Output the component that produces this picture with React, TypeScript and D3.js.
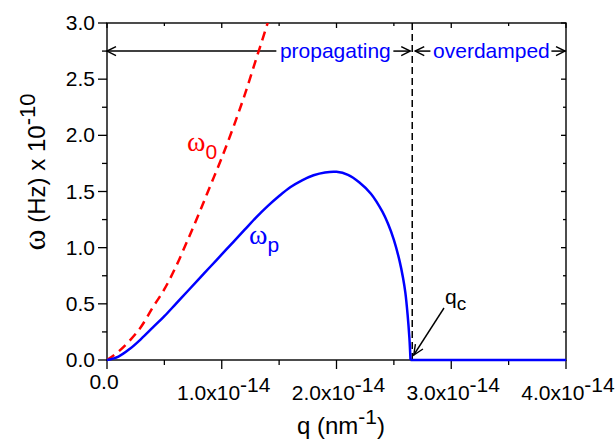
import React from "react";
import * as d3 from "d3";

// ω0 (red dashed) — q in units of 1e-14 nm^-1, ω in units of 1e10 Hz
const redQ = [0, 0.1, 0.2, 0.3, 0.4, 0.5, 0.6, 0.7, 0.8, 0.9, 1.0, 1.1, 1.2, 1.3, 1.4, 1.45];
const redW = [0, 0.075, 0.175, 0.3, 0.47, 0.63, 0.83, 1.06, 1.3, 1.55, 1.8, 2.07, 2.36, 2.68, 3.0, 3.17];

// ωp (blue solid): propagating branch, then overdamped (zero) branch
const blueQ = [0, 0.1, 0.2, 0.3, 0.4, 0.5, 0.6, 0.7, 0.8, 0.9, 1.0, 1.1, 1.2, 1.3, 1.4, 1.5, 1.6, 1.7, 1.8, 1.9, 2.0, 2.1, 2.2, 2.3, 2.4, 2.45, 2.5, 2.55, 2.58, 2.6, 2.62, 2.635, 2.645];
const blueW = [0, 0.03, 0.1, 0.19, 0.29, 0.39, 0.5, 0.61, 0.72, 0.83, 0.94, 1.05, 1.16, 1.27, 1.37, 1.46, 1.54, 1.6, 1.645, 1.67, 1.675, 1.648, 1.58, 1.48, 1.32, 1.21, 1.07, 0.88, 0.73, 0.6, 0.4, 0.2, 0];
const flatQ = [2.645, 3.0, 3.5, 4.0];
const flatW = [0, 0, 0, 0];

const yTickValues = [0, 0.5, 1, 1.5, 2, 2.5, 3];
const yTickLabels = ["0.0", "0.5", "1.0", "1.5", "2.0", "2.5", "3.0"];
const xTickValues = [0, 1, 2, 3, 4];
const xTickMantissa = ["0.0", "1.0x10", "2.0x10", "3.0x10", "4.0x10"];
const xTickExponent = ["", "-14", "-14", "-14", "-14"];

const qCritical = 2.66;
const regionRowOmega = 2.75;
const regionLabels = ["propagating", "overdamped"];
const regionLabelQ = [1.99, 3.35];

const SANS = "'Liberation Sans', Arial, sans-serif";
const SERIF = "'Liberation Serif', 'Times New Roman', serif";
const BLUE = "#0000ff";
const RED = "#ff0000";

const L = 107, R = 566, T = 23, B = 360;

function arrowHead(x: number, y: number, dir: number, len = 9, hw = 4.5) {
  return `M${x - dir * len},${y - hw}L${x},${y}L${x - dir * len},${y + hw}`;
}

export default function App() {
  const x = d3.scaleLinear().domain([0, 4]).range([L, R]);
  const y = d3.scaleLinear().domain([0, 3]).range([B, T]);

  const mk = (curve: d3.CurveFactory) =>
    d3
      .line<[number, number]>()
      .x((d) => x(d[0]))
      .y((d) => y(d[1]))
      .curve(curve);

  const redPath = mk(d3.curveMonotoneX)(redQ.map((q, i) => [q, redW[i]] as [number, number])) || "";
  const bluePath = mk(d3.curveCatmullRom.alpha(0.5))(blueQ.map((q, i) => [q, blueW[i]] as [number, number])) || "";
  const flatPath = mk(d3.curveLinear)(flatQ.map((q, i) => [q, flatW[i]] as [number, number])) || "";

  const yMinor = d3.range(0, 3.001, 0.25);
  const xMinor = d3.range(0, 4.001, 0.5);
  const isMajorY = (v: number) => Math.abs(v * 2 - Math.round(v * 2)) < 1e-6;
  const isMajorX = (v: number) => Math.abs(v - Math.round(v)) < 1e-6;

  const rowY = y(regionRowOmega);
  const xc = x(qCritical);
  const labelFont = 21;
  const pW = 112, oW = 118;
  const pC = x(regionLabelQ[0]);
  const oC = x(regionLabelQ[1]);

  return (
    <svg
      width={615}
      height={444}
      style={{ position: "absolute", left: 0, top: 0, background: "#fff" }}
      fontFamily={SANS}
    >
      <defs>
        <clipPath id="plotClip">
          <rect x={L} y={T} width={R - L} height={B - T + 4} />
        </clipPath>
      </defs>
      <rect x={0} y={0} width={615} height={444} fill="#fff" />

      {/* ticks */}
      <g stroke="#000" strokeWidth={1.3}>
        {yMinor.map((v, i) => {
          const maj = isMajorY(v);
          return (
            <g key={"y" + i}>
              <line x1={L} x2={L - (maj ? 9 : 5)} y1={y(v)} y2={y(v)} />
              <line x1={R} x2={R - (maj ? 5 : 3)} y1={y(v)} y2={y(v)} />
            </g>
          );
        })}
        {xMinor.map((v, i) => {
          const maj = isMajorX(v);
          return (
            <g key={"x" + i}>
              <line x1={x(v)} x2={x(v)} y1={B} y2={B + (maj ? 9 : 5)} />
              <line x1={x(v)} x2={x(v)} y1={T} y2={T + (maj ? 5 : 3)} />
            </g>
          );
        })}
      </g>

      {/* frame */}
      <rect x={L} y={T} width={R - L} height={B - T} fill="none" stroke="#000" strokeWidth={1.4} />

      {/* y tick labels */}
      {yTickValues.map((v, i) => (
        <text key={"yl" + i} x={L - 12} y={y(v) + 7} textAnchor="end" fontSize={21} fill="#000">
          {yTickLabels[i]}
        </text>
      ))}

      {/* x tick labels */}
      {xTickValues.map((v, i) =>
        xTickExponent[i] ? (
          <text key={"xl" + i} x={x(v) + 2} y={400} textAnchor="middle" fontSize={21} fill="#000">
            {xTickMantissa[i]}
            <tspan dy={-8}>{xTickExponent[i]}</tspan>
          </text>
        ) : (
          <text key={"xl" + i} x={x(v) - 3} y={389} textAnchor="middle" fontSize={21} fill="#000">
            {xTickMantissa[i]}
          </text>
        )
      )}

      {/* axis titles */}
      <text x={341} y={434} textAnchor="middle" fontSize={24} fill="#000">
        q (nm<tspan dy={-10} fontSize={21}>-1</tspan>
        <tspan dy={10}>)</tspan>
      </text>
      <text transform={`translate(45,172) rotate(-90)`} textAnchor="middle" fontSize={24} fill="#000">
        <tspan fontFamily={SERIF} fontSize={32}>ω</tspan>
        <tspan> (Hz) x 10</tspan>
        <tspan dy={-10} fontSize={22}>-10</tspan>
      </text>

      {/* critical q dashed line */}
      <line x1={xc} x2={xc} y1={T} y2={B} stroke="#000" strokeWidth={1.5} strokeDasharray="7,4" />

      {/* region arrows */}
      <g stroke="#000" strokeWidth={1.5} fill="none">
        <line x1={L} x2={pC - pW / 2 - 3} y1={rowY} y2={rowY} />
        <path d={arrowHead(L, rowY, -1)} />
        <line x1={pC + pW / 2 + 2} x2={xc - 2} y1={rowY} y2={rowY} />
        <path d={arrowHead(xc - 2, rowY, 1)} />
        <line x1={xc + 3} x2={oC - oW / 2 - 2} y1={rowY} y2={rowY} />
        <path d={arrowHead(xc + 3, rowY, -1)} />
        <line x1={oC + oW / 2 + 1} x2={R - 1} y1={rowY} y2={rowY} />
        <path d={arrowHead(R - 1, rowY, 1)} />
      </g>
      <text x={pC} y={rowY + 7} textAnchor="middle" fontSize={labelFont} fill={BLUE}>
        {regionLabels[0]}
      </text>
      <text x={oC} y={rowY + 7} textAnchor="middle" fontSize={labelFont} fill={BLUE}>
        {regionLabels[1]}
      </text>

      {/* curves */}
      <g clipPath="url(#plotClip)">
        <path d={redPath} fill="none" stroke={RED} strokeWidth={2.5} strokeDasharray="9,6" />
        <path d={bluePath} fill="none" stroke={BLUE} strokeWidth={2.5} />
        <path d={flatPath} fill="none" stroke={BLUE} strokeWidth={2.5} />
      </g>

      {/* curve labels */}
      <text x={187} y={151} fill={RED} fontSize={28} fontFamily={SERIF}>
        ω<tspan dy={8} fontSize={21} fontFamily={SANS}>0</tspan>
      </text>
      <text x={249} y={244} fill={BLUE} fontSize={28} fontFamily={SERIF}>
        ω<tspan dy={8} fontSize={21} fontFamily={SANS}>p</tspan>
      </text>

      {/* qc annotation */}
      <text x={445} y={304} fontSize={21} fill="#000">
        q<tspan dy={6} fontSize={19}>c</tspan>
      </text>
      <g stroke="#000" strokeWidth={1.4} fill="none">
        <line x1={444} y1={308} x2={xc + 1.5} y2={355} />
        {(() => {
          const x2 = xc + 1.5, y2 = 355, x1 = 444, y1 = 308;
          const a = Math.atan2(y2 - y1, x2 - x1);
          const len = 11, sp = 0.42;
          const p1 = [x2 - len * Math.cos(a - sp), y2 - len * Math.sin(a - sp)];
          const p2 = [x2 - len * Math.cos(a + sp), y2 - len * Math.sin(a + sp)];
          return <path d={`M${p1[0]},${p1[1]}L${x2},${y2}L${p2[0]},${p2[1]}`} />;
        })()}
      </g>
    </svg>
  );
}
